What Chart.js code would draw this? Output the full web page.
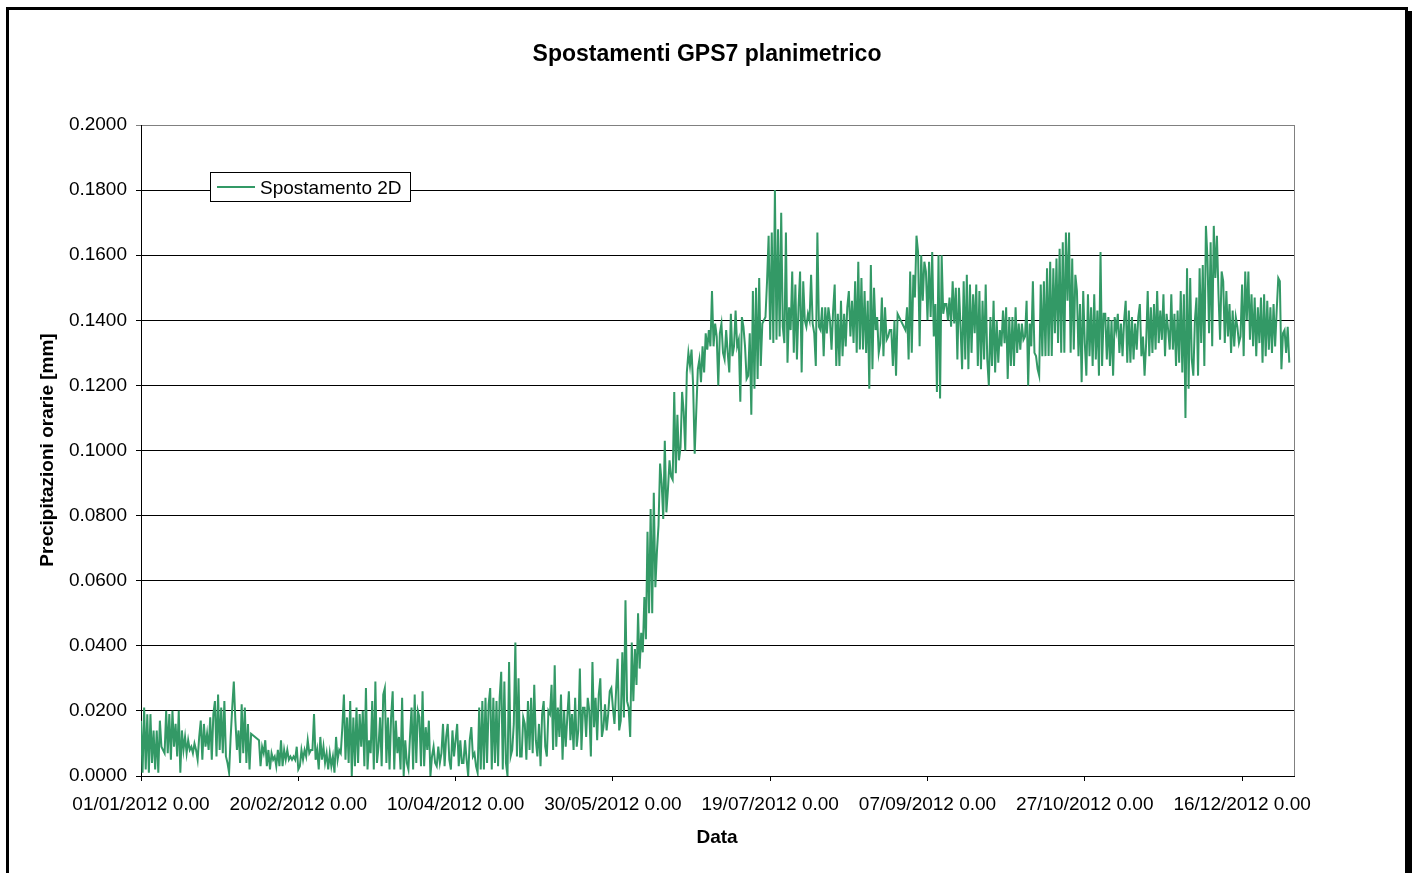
<!DOCTYPE html>
<html>
<head>
<meta charset="utf-8">
<title>Spostamenti GPS7 planimetrico</title>
<script src="https://cdn.jsdelivr.net/npm/chart.js@4.4.1/dist/chart.umd.min.js"></script>
<style>
  html, body { margin: 0; padding: 0; background: #fff; }
  #wrap { position: relative; width: 1412px; height: 873px; overflow: hidden; }
  #frame {
    position: absolute; left: 6px; top: 7px; width: 1402px; height: 900px;
    box-sizing: border-box; border: 3px solid #000; box-shadow: 4px 4px 0 #000;
    pointer-events: none;
  }
</style>
</head>
<body>
<div id="wrap">
  <canvas id="chart" width="1412" height="873"></canvas>
  <div id="frame"></div>
</div>
<script>
// one reading every half day, starting 01/01/2012 0.00
const STEP_DAYS = 0.5;

const tickDays = [0, 50, 100, 150, 200, 250, 300, 350];
const tickLabels = ['01/01/2012 0.00', '20/02/2012 0.00', '10/04/2012 0.00', '30/05/2012 0.00',
                    '19/07/2012 0.00', '07/09/2012 0.00', '27/10/2012 0.00', '16/12/2012 0.00'];

// Spostamento 2D, period by period (null = missing reading)
const spostJanFeb = [
  .017,.001,.021,.002,.019,.001,.019,.004,.014,.002,
  .014,.001,.017,.009,.008,.007,.020,.007,.019,.005,
  .020,.009,.016,.006,.020,.001,.014,.008,.012,.007,
  .011,.008,.009,.007,.010,.008,.005,.012,.017,.005,
  .016,.009,.013,.008,.018,.005,.019,.023,.006,.025,
  .008,.021,.007,.023,.006,.004,.001,.012,.021,.029,
  .017,.008,.014,.004,.022,.007,.021,.004,.016,.002,
  .013,null,null,null,null,.011,.003,.009,.007,.011,
  .003,.008,.002,.007,.005,.006,.003,.008,.003,.011,
  .003,.008,.005,.008,.005,.006,.005,.006,.005,.009,
  .002
];
const spostFebApr = [
  .003,.008,.005,.008,.006,.011,.007,.008,.008,.019,
  .005,.008,.002,.012,.005,.009,.004,.007,.002,.007,
  .003,.006,.001,.012,.005,.008,.007,.015,.025,.005,
  .018,.004,.023,.000,.018,.003,.021,.004,.019,.009,
  .020,.003,.027,.002,.011,.007,.023,.002,.029,.004,
  .009,.018,.003,.025,.027,.004,.018,.002,.018,.026,
  .002,.017,.007,.012,.002,.024,.000,.011,.004,.002,
  .012,.021,.002,.025,.004,.020,.018,.003,.026,.003,
  .015,.008,.017,.000,.006,.009,.004,.003,.009,.004,
  .007,.016,.003,.012,.016,.005,.002,.014,.006,.011,
  .016,.003
];
const spostAprMay = [
  .011,.004,.004,.011,.005,.000,.011,.015,.006,.007,
  .003,.001,.021,.002,.023,.002,.024,.004,.022,.027,
  .002,.024,.004,.023,.003,.024,.032,.002,.029,.004,
  .000,.035,.006,.008,.016,.041,.006,.030,.006,.006,
  .018,.016,.005,.023,.008,.024,.007,.028,.011,.006,
  .016,.003,.019,.023,.009,.006,.020,.019,.028,.008,
  .034,.009,.021,.012,.025,.005,.020,.009,.018,.026,
  .011,.019,.008,.024,.009,.014,.033,.008,.021,.021,
  .012,.024,.020,.006,.035,.015,.024,.011,.025,.030
];
const spostMayJun = [
  .012,.015,.022,.014,.019,.026,.027,.021,.016,.026,
  .036,.014,.017,.038,.018,.054,.023,.021,.012,.041,
  .023,.039,.028,.050,.033,.044,.038,.055,.042,.075,
  .050,.082,.050,.087,.058,.069,.077,.096,.090,.079,
  .103,.081,.088,.097,.092,.091,.118,.093,.111,.097,
  .101,.118,.112,.100,.124,.130
];
const spostJunAug = [
  .126,.131,.120,.099,.112,.125,.128,.121,.132,.124,
  .136,.131,.137,.132,.149,.132,.139,.135,.120,.136,
  .139,.130,.128,.137,.130,.124,.142,.129,.132,.143,
  .132,.134,.115,.141,.138,.132,.122,.123,.136,.111,
  .149,.119,.150,.122,.153,.126,.139,.140,.141,.152,
  .166,.134,.167,.133,.180,.134,.168,.135,.173,.138,
  .133,.167,.127,.144,.137,.155,.130,.151,.128,.144,
  .155,.124,.152,.140,.138,.142,.140,.154,.139,.136,
  .126,.167
];
const spostAugSep = [
  .138,.137,.144,.129,.144,.136,.144,.140,.131,.143,
  .151,.126,.142,.126,.146,.129,.142,.132,.144,.149,
  .135,.146,.133,.152,.130,.158,.131,.153,.131,.149,
  .130,.146,.119,.157,.125,.150,.137,.141,.130,.133,
  .147,.129,.144,.134,.135,.137,.137,.126,.140,.123,
  .142,null,null,null,null,.137,.144,.128,.155,.130,
  .154,.147,.166,.161,.132,.160,.146,.158,.155,.140,
  .158,.141,.161,.135,.145,.118,.160,.116,.160,.142,
  .145,.145,.140,.147,.138,.152,.139,.150,.128,.150,
  .138,.125,.152
];
const spostSepNov = [
  .128,.154,.125,.151,.130,.148,.136,.151,.126,.149,
  .125,.146,.128,.151,.128,.120,.141,.126,.146,.124,
  .140,.127,.137,.132,.143,.133,.144,.122,.141,.126,
  .141,.126,.144,.130,.139,.131,.139,.134,.135,.146,
  .120,.139,.132,.152,.130,.129,.125,.123,.151,.129,
  .152,.129,.156,.129,.158,.129,.156,.136,.159,.133,
  .162,.130,.164,.130,.167,.146,.167,.130,.159,.131,
  .154,.149,.129,.145,.121,.149,.133,.123,.148,.129,
  .144,.126,.148,.128,.143,.123,.161,.126,.142
];
const spostNovDec = [
  .142,.128,.141,.126,.140,.123,.141,.137,.142,.130,
  .139,.129,.140,.146,.127,.143,.127,.141,.128,.139,
  .131,.141,.145,.129,.135,.123,.133,.149,.129,.144,
  .130,.145,.131,.149,.133,.143,.134,.148,.129,.142,
  .137,.131,.148,.131,.142,.126,.143,.127,.149,.124,
  .148,.110,.156,.119,.153,.128,.123,.140,.147,.123,
  .156,.133,.157,.126,.169,.159,.136,.164,.132,.169,
  .153,.166,.148,.134,.155,.152,.133,.149,.135,.145,
  .130,.143,.132,.141,.138,.133,.135,.151,.129,.155,
  .140,.155,.134,.148,.132,.147,.129,.144,.133,.147,
  .127,.148,.129,.146,.131,.144,.130,.145,.132,.143,
  .153,.152,.125,.136,.137,.130,.138,.127
];

const spostamento2D = [].concat(spostJanFeb, spostFebApr, spostAprMay, spostMayJun,
                                spostJunAug, spostAugSep, spostSepNov, spostNovDec);

const FONT = "'Liberation Sans', Arial, sans-serif";
const GREEN = '#339966';

// title, axis titles, legend and the grey plot border
const decorations = {
  id: 'decorations',
  afterDraw(chart) {
    const { ctx, chartArea: a } = chart;
    ctx.save();
    ctx.strokeStyle = '#808080';
    ctx.lineWidth = 1;
    ctx.beginPath();
    ctx.moveTo(Math.round(a.right) + 0.5, a.top);
    ctx.lineTo(Math.round(a.right) + 0.5, a.bottom);
    ctx.stroke();

    ctx.fillStyle = '#000';
    ctx.textAlign = 'center';
    ctx.textBaseline = 'middle';
    ctx.font = 'bold 23px ' + FONT;
    ctx.fillText('Spostamenti GPS7 planimetrico', 707, 55);
    ctx.font = 'bold 19px ' + FONT;
    ctx.fillText('Data', 717, 838);
    ctx.save();
    ctx.translate(48, 450);
    ctx.rotate(-Math.PI / 2);
    ctx.fillText('Precipitazioni orarie [mm]', 0, 0);
    ctx.restore();

    // legend
    ctx.fillStyle = '#fff';
    ctx.fillRect(210.5, 172.5, 200, 29);
    ctx.strokeStyle = '#000';
    ctx.strokeRect(210.5, 172.5, 200, 29);
    ctx.strokeStyle = GREEN;
    ctx.lineWidth = 2;
    ctx.beginPath();
    ctx.moveTo(217, 187);
    ctx.lineTo(255, 187);
    ctx.stroke();
    ctx.fillStyle = '#000';
    ctx.textAlign = 'left';
    ctx.font = '19px ' + FONT;
    ctx.fillText('Spostamento 2D', 260, 189);
    ctx.restore();
  }
};

new Chart(document.getElementById('chart'), {
  type: 'line',
  data: {
    datasets: [{
      label: 'Spostamento 2D',
      data: spostamento2D.map((v, i) => ({ x: i * STEP_DAYS, y: v })),
      borderColor: GREEN,
      borderWidth: 2,
      pointRadius: 0,
      tension: 0,
      spanGaps: true
    }]
  },
  options: {
    responsive: false,
    animation: false,
    devicePixelRatio: 1,
    layout: { padding: { top: 125, right: 118, bottom: 0, left: 0 } },
    plugins: {
      legend: { display: false },
      title: { display: false },
      tooltip: { enabled: false }
    },
    scales: {
      x: {
        type: 'linear',
        min: 0,
        max: 366.5,
        afterBuildTicks: s => { s.ticks = tickDays.map(v => ({ value: v })); },
        afterFit: s => { s.height = 97; },
        ticks: {
          autoSkip: false,
          maxRotation: 0,
          padding: 12,
          color: '#000',
          font: { family: FONT, size: 19 },
          callback: (v, i) => tickLabels[i]
        },
        grid: { drawOnChartArea: false, tickLength: 5, color: '#000' },
        border: { color: '#000' }
      },
      y: {
        min: 0,
        max: 0.2,
        afterFit: s => { s.width = 141; },
        ticks: {
          stepSize: 0.02,
          padding: 9,
          color: '#000',
          font: { family: FONT, size: 19 },
          callback: v => v.toFixed(4)
        },
        grid: {
          tickLength: 5,
          color: c => (c.tick && c.tick.value > 0.199 ? '#808080' : '#000')
        },
        border: { color: '#000' }
      }
    }
  },
  plugins: [decorations]
});
</script>
</body>
</html>
